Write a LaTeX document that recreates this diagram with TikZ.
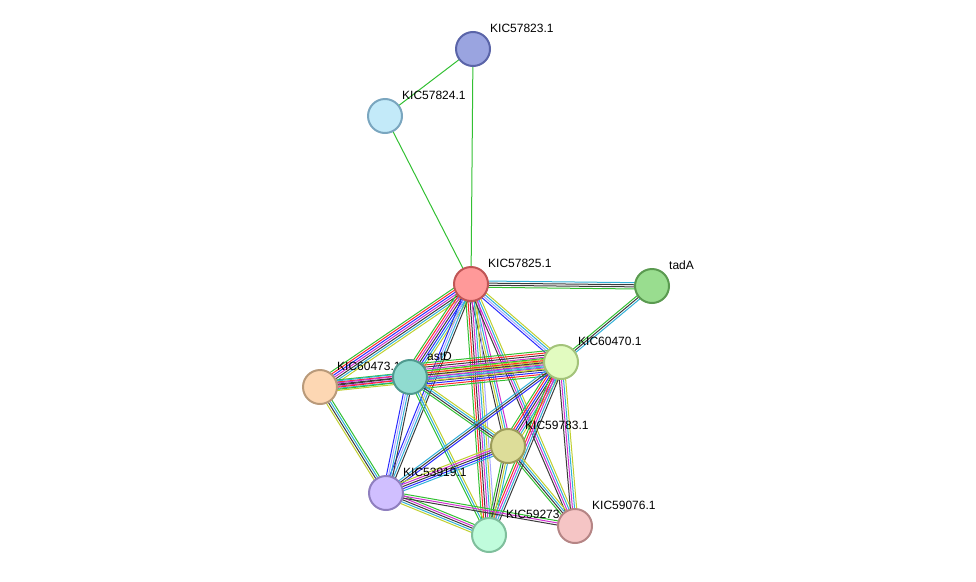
\documentclass[tikz,border=0pt]{standalone}
\usepackage{fontspec}
\setmainfont{Liberation Sans}
\usetikzlibrary{calc,backgrounds}
\definecolor{G}{HTML}{33C033}
\definecolor{R}{HTML}{FF2A2A}
\definecolor{B}{HTML}{2A2AFF}
\definecolor{K}{HTML}{3C3C3C}
\definecolor{M}{HTML}{D030D0}
\definecolor{C}{HTML}{30B0D8}
\definecolor{Y}{HTML}{C0D030}
\definecolor{L}{HTML}{A8A8FF}
\tikzset{
 prot/.style={circle,minimum size=34pt,inner sep=0pt,line width=2pt},
 lab/.style={anchor=west,font=\fontsize{12}{12}\selectfont,inner sep=0pt},
}
\newcommand\sedge[3]{%
 \gdef\nn{0}%
 \foreach \c in {#3}{\pgfmathtruncatemacro\t{\nn+1}\global\let\nn\t}%
 \foreach \c [count=\i] in {#3}{%
  \pgfmathsetmacro\off{(\i-(\nn+1)/2)*2.1}%
  \draw[\c,line width=1pt] ($(#1)!\off pt!90:(#2)$) -- ($(#2)!\off pt!-90:(#1)$);}}
\newcommand\prot[5]{%
 \definecolor{fill#1}{HTML}{#4}\definecolor{draw#1}{HTML}{#5}%
 \node[lab] (#1l) at ($(#2)+(17,-21)$) {#3};
 \node[prot,fill=fill#1,draw=draw#1] (#1) at (#2) {};}
\begin{document}
\begin{tikzpicture}[x=1pt,y=-1pt]
\useasboundingbox (0,0) rectangle (976,581);
\prot{a}{473,49}{KIC57823.1}{9AA4E0}{5A64A8}
\prot{b}{385,116}{KIC57824.1}{C3EAF9}{7AA6BF}
\prot{c}{471,284}{KIC57825.1}{FF9999}{C05555}
\prot{t}{652,286}{tadA}{99DD8F}{5A9A50}
\prot{e}{561,362}{KIC60470.1}{E2FBC0}{A3C37A}
\prot{f}{320,387}{KIC60473.1}{FDD7B3}{B99A7A}
\prot{d}{410,377}{astD}{90DBD0}{4F9A8F}
\prot{g}{508,446}{KIC59783.1}{DDDD99}{9C9C5A}
\prot{h}{386,493}{KIC53919.1}{D0BFFF}{8F7FBF}
\prot{i}{489,535}{KIC59273}{C0FCDC}{7FBF9C}
\prot{j}{575,526}{KIC59076.1}{F5C5C5}{B58585}
\begin{scope}[on background layer]
\sedge{a}{b}{G}
\sedge{a}{c}{G}
\sedge{b}{c}{G}
\sedge{c}{t}{G,K,K,C}
\sedge{t}{e}{G,K,C}
\sedge{c}{f}{G,R,B,M,K,C,Y}
\sedge{c}{d}{G,R,M,K,B,C,Y}
\sedge{c}{e}{B,L,C,Y}
\sedge{c}{g}{K,Y,C,M}
\sedge{c}{h}{B,L,C,K}
\sedge{c}{i}{G,R,K,M,C,Y,L}
\sedge{c}{j}{K,M,C,Y}
\sedge{d}{e}{G,R,B,K,M,C,Y,Y,Y,M,K,R,G}
\sedge{f}{e}{Y,C,M,K,R,G}
\sedge{f}{d}{G,R,K,M,C}
\sedge{f}{h}{Y,K,C,G}
\sedge{d}{g}{G,K,C,Y}
\sedge{d}{h}{B,L,C,K}
\sedge{d}{i}{G,C,Y}
\sedge{e}{g}{G,R,B,K,M,C,Y}
\sedge{e}{h}{C,K,B}
\sedge{e}{i}{G,R,M,C,K}
\sedge{e}{j}{K,M,C,Y}
\sedge{g}{h}{Y,M,K,B,C}
\sedge{g}{i}{G,K,Y,C}
\sedge{g}{j}{G,K,C,Y}
\sedge{h}{i}{Y,C,K,M,G}
\sedge{h}{j}{K,M,G}
\end{scope}
\end{tikzpicture}
\end{document}
